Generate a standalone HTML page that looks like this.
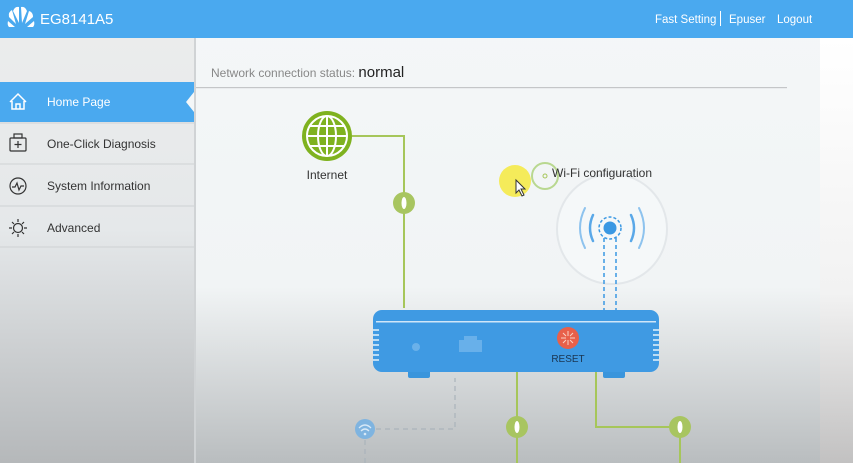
<!DOCTYPE html>
<html><head><style>
body{margin:0;width:853px;height:463px;overflow:hidden;font-family:"Liberation Sans",sans-serif;}
</style></head><body>
<svg width="853" height="463" xmlns="http://www.w3.org/2000/svg" font-family="Liberation Sans, sans-serif">
<defs>
<linearGradient id="cg" x1="0" y1="0" x2="0" y2="1">
<stop offset="0" stop-color="#f4f7f8"/><stop offset="0.62" stop-color="#f1f4f5"/><stop offset="1" stop-color="#b9bdbf"/></linearGradient>
<linearGradient id="sg" x1="0" y1="0" x2="0" y2="1">
<stop offset="0" stop-color="#ebecec"/><stop offset="0.45" stop-color="#e5e8ea"/><stop offset="1" stop-color="#b5b8ba"/></linearGradient>
<linearGradient id="rg" x1="0" y1="0" x2="0" y2="1">
<stop offset="0" stop-color="#ffffff"/><stop offset="0.6" stop-color="#f2f2f2"/><stop offset="1" stop-color="#c2c1c1"/></linearGradient>
</defs>
<rect width="853" height="463" fill="url(#cg)"/>
<rect x="0" y="38" width="194" height="425" fill="url(#sg)"/>
<rect x="820" y="38" width="33" height="425" fill="url(#rg)"/>
<rect x="194" y="38" width="2" height="425" fill="#d0d3d5"/>
<!-- header -->
<rect width="853" height="38" fill="#4aa9ef"/>
<g fill="#fff">
<path d="M16 24 L9 17 Q8 12 12 10 Z M19 23 L13 11 Q15 6 19 7 Z M22 23 L21 7 Q25 6 27 11 Z M25 24 L29 11 Q33 12 33 17 Z M15 27 L8 21 Q7 25 9 27Z M27 27 L34 21 Q35 25 33 27Z"/>
</g>
<text x="40" y="24" fill="#fff" font-size="15">EG8141A5</text>
<text x="655" y="23" fill="#fff" font-size="11.5">Fast Setting</text>
<rect x="720" y="11" width="1" height="15" fill="#fff"/>
<text x="729" y="23" fill="#fff" font-size="11.5">Epuser</text>
<text x="777" y="23" fill="#fff" font-size="11.5">Logout</text>
<!-- sidebar -->
<rect x="0" y="82" width="194" height="40" fill="#4aa9ef"/>
<path d="M194 92 L186 102 L194 112Z" fill="#f4f7f8"/>
<g fill="none" stroke="#fff" stroke-width="1.5"><path d="M10 102 L18 94 L26 102 M12 101 V109 H24 V101 M16 109 V104 H20 V109"/></g>
<text x="47" y="106" fill="#fff" font-size="12">Home Page</text>
<g stroke="#cfd2d4"><line x1="0" y1="164" x2="194" y2="164"/><line x1="0" y1="206" x2="194" y2="206"/><line x1="0" y1="247" x2="194" y2="247"/><line x1="0" y1="123" x2="194" y2="123"/></g>
<g fill="none" stroke="#333" stroke-width="1.2">
<rect x="10" y="138" width="16" height="13" rx="1"/><rect x="14" y="134" width="8" height="4"/><path d="M18 141 V148 M14.5 144.5 H21.5"/>
<circle cx="18" cy="186" r="8"/><path d="M12 187 L15 187 L17 183 L19 190 L21 186 L24 186"/>
<circle cx="18" cy="228" r="4.5"/><path d="M18 219 V222 M18 234 V237 M9 228 H12 M24 228 H27 M12 222 L14 224 M22 232 L24 234 M12 234 L14 232 M22 224 L24 222"/>
</g>
<g fill="#333" font-size="12"><text x="47" y="148">One-Click Diagnosis</text><text x="47" y="190">System Information</text><text x="47" y="232">Advanced</text></g>
<!-- status -->
<text x="211" y="77" fill="#888" font-size="12">Network connection status: <tspan fill="#222" font-size="15">normal</tspan></text>
<rect x="196" y="87" width="591" height="1.2" fill="#c4c6c8"/>
<!-- internet -->
<g stroke="#a6c65a" stroke-width="2" fill="none">
<path d="M352 136 H404 V308"/>
<path d="M517 372 V463"/>
<path d="M596 372 V427 H680 V463"/>
</g>
<circle cx="327" cy="136" r="25" fill="#7fb21f"/>
<g fill="none" stroke="#fff" stroke-width="2"><circle cx="327" cy="136" r="20"/><ellipse cx="327" cy="136" rx="9" ry="20"/><path d="M327 116 V156 M307 136 H347 M310 126 H344 M310 146 H344"/></g>
<text x="327" y="179" fill="#333" font-size="12" text-anchor="middle">Internet</text>
<g fill="#a8c560"><circle cx="404" cy="203" r="11"/><circle cx="517" cy="427" r="11"/><circle cx="680" cy="427" r="11"/></g>
<g fill="#fff"><ellipse cx="404" cy="203" rx="2.5" ry="6"/><ellipse cx="517" cy="427" rx="2.5" ry="6"/><ellipse cx="680" cy="427" rx="2.5" ry="6"/></g>
<!-- wifi -->
<circle cx="612" cy="229" r="55" fill="#f5f8f9" stroke="#e3e7ea" stroke-width="2"/>
<circle cx="515" cy="181" r="16" fill="#f5eb5a"/>
<path d="M516 180 V193 L519 190 L522 196 L524 195 L521 189 L525 189 Z" fill="#fff" stroke="#333" stroke-width="1"/>
<circle cx="545" cy="176" r="13" fill="none" stroke="#b9d890" stroke-width="2"/>
<circle cx="545" cy="176" r="2" fill="none" stroke="#a6c65a"/>
<text x="552" y="177" fill="#333" font-size="12">Wi-Fi configuration</text>
<g fill="none" stroke="#5aa8e8" stroke-width="2.5" stroke-linecap="round">
<path d="M593 215 Q587 228 593 241 M631 215 Q637 228 631 241"/>
<path d="M585 208 Q575 228 585 248 M639 208 Q649 228 639 248" stroke-width="2" stroke="#8ec3ee"/>
</g>
<circle cx="610" cy="228" r="11" fill="none" stroke="#3a98e3" stroke-width="1.5" stroke-dasharray="3 2"/>
<circle cx="610" cy="228" r="6.5" fill="#3a98e3"/>
<g stroke="#3a98e3" stroke-width="1.5" stroke-dasharray="4 3"><line x1="604" y1="238" x2="604" y2="310"/><line x1="616" y1="238" x2="616" y2="310"/></g>
<!-- router -->
<rect x="408" y="368" width="22" height="10" rx="2" fill="#3a95dc"/>
<rect x="603" y="368" width="22" height="10" rx="2" fill="#3a95dc"/>
<rect x="373" y="310" width="286" height="62" rx="9" fill="#3f9ae3"/>
<rect x="376" y="321" width="280" height="1.5" fill="#cfe6f8"/>
<g stroke="#e4f1fb" stroke-width="1.5"><path d="M373 330h6M373 335h6M373 340h6M373 345h6M373 350h6M373 355h6M373 360h6M653 330h6M653 335h6M653 340h6M653 345h6M653 350h6M653 355h6M653 360h6"/></g>
<circle cx="416" cy="347" r="4" fill="#6ab1ea"/>
<path d="M459 352 V340 H464 V336 H477 V340 H482 V352 Z" fill="#68b0ea"/>
<circle cx="568" cy="338" r="11" fill="#e8604a"/>
<g stroke="#f9d2c6" stroke-width="1"><path d="M568 331v5M568 340v5M561 338h5M570 338h5M563 333l3 3M570 340l3 3M563 343l3-3M570 336l3-3"/></g>
<text x="568" y="362" fill="#1a3550" font-size="10" text-anchor="middle">RESET</text>
<!-- lan wifi -->
<g stroke="#aab3bb" stroke-width="1.2" stroke-dasharray="5 4" fill="none"><path d="M376 429 H455 V378"/><path d="M365 440 V463"/></g>
<circle cx="365" cy="429" r="10" fill="#7fb4e0"/>
<g fill="none" stroke="#d8e9f7" stroke-width="1.3"><path d="M359 428 Q365 422 371 428 M361 431 Q365 427 369 431"/></g>
<circle cx="365" cy="434" r="1.3" fill="#d8e9f7"/>
</svg>
</body></html>
